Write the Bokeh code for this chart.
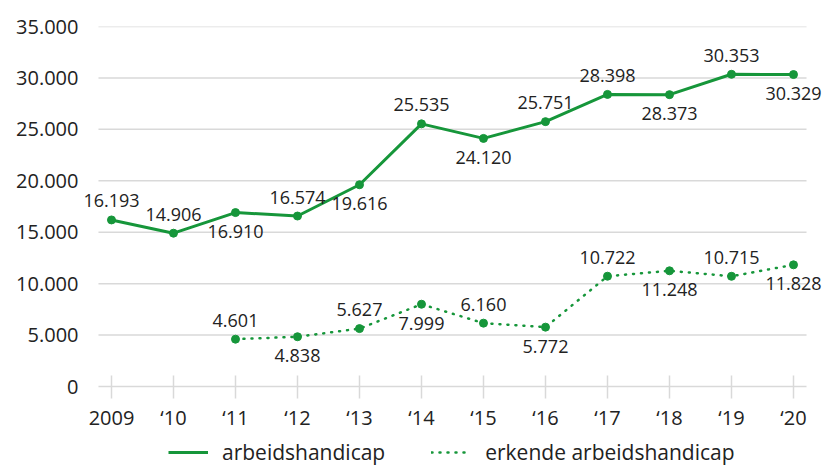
from bokeh.plotting import figure
from bokeh.models import (ColumnDataSource, FixedTicker, Legend, LegendItem,
                          CustomJSTickFormatter, Range1d, LabelSet, LinearAxis)
from bokeh.core.properties import value
from bokeh.embed import file_html
from bokeh.resources import INLINE

# ---- data ----
year_labels = ["2009", "\u201810", "\u201811", "\u201812", "\u201813", "\u201814",
               "\u201815", "\u201816", "\u201817", "\u201818", "\u201819", "\u201820"]
arbeidshandicap = [16193, 14906, 16910, 16574, 19616, 25535, 24120, 25751,
                   28398, 28373, 30353, 30329]
erkend_start = 2  # first year ('11) with data for the second series
erkende_arbeidshandicap = [4601, 4838, 5627, 7999, 6160, 5772, 10722, 11248,
                           10715, 11828]
label_side_1 = ["above", "above", "below", "above", "below", "above", "below",
                "above", "above", "below", "above", "below"]
label_side_2 = ["above", "below", "above", "below", "above", "below", "above",
                "below", "above", "below"]
y_ticks = [0, 5000, 10000, 15000, 20000, 25000, 30000, 35000]

GREEN = "#16963a"
TEXT = "#222222"
GRID = "#d9d9d9"
FONT = "Open Sans"


def fmt(v):
    return f"{v:,}".replace(",", ".")


x1 = list(range(len(arbeidshandicap)))
x2 = list(range(erkend_start, erkend_start + len(erkende_arbeidshandicap)))

OFF = 19
src1 = ColumnDataSource(dict(
    x=x1, y=arbeidshandicap,
    txt=[fmt(v) for v in arbeidshandicap],
    off=[OFF if s == "above" else -OFF for s in label_side_1]))
src2 = ColumnDataSource(dict(
    x=x2, y=erkende_arbeidshandicap,
    txt=[fmt(v) for v in erkende_arbeidshandicap],
    off=[OFF if s == "above" else -OFF for s in label_side_2]))

GX0, GX1 = -0.21, len(year_labels) - 1 + 0.21   # grid extent (data units)
Y_TOP = y_ticks[-1]
Y_BOTTOM = -Y_TOP * 80 / 360   # room below the zero line for axis labels and legend

p = figure(width=823, height=466, output_backend="svg",
           toolbar_location=None, x_axis_location=None,
           x_range=Range1d(-0.5, 11.484), y_range=Range1d(Y_BOTTOM, Y_TOP),
           min_border_left=80, min_border_right=0, min_border_top=26,
           min_border_bottom=0)
p.outline_line_color = None
p.background_fill_color = "white"

# horizontal grid lines (limited extent)
p.segment(x0=[GX0] * len(y_ticks), x1=[GX1] * len(y_ticks), y0=y_ticks,
          y1=y_ticks, line_color=GRID, line_width=1.5)

r1 = p.line("x", "y", source=src1, line_color=GREEN, line_width=3)
p.scatter("x", "y", source=src1, size=8, color=GREEN)
r2 = p.line("x", "y", source=src2, line_color=GREEN, line_width=2.5,
            line_dash="1 7", line_cap="round")
p.scatter("x", "y", source=src2, size=8, color=GREEN)

for s in (src1, src2):
    p.add_layout(LabelSet(x="x", y="y", text="txt", y_offset="off", source=s,
                          text_align="center", text_baseline="middle",
                          text_font=value(FONT), text_font_size="18px",
                          text_color=TEXT))

# x axis fixed at y = 0
xaxis = LinearAxis(fixed_location=0)
xaxis.ticker = FixedTicker(ticks=x1)
xaxis.major_label_overrides = {i: lab for i, lab in enumerate(year_labels)}
xaxis.axis_line_color = None
xaxis.major_tick_line_color = GRID
xaxis.major_tick_line_width = 1.5
xaxis.major_tick_in = 11
xaxis.major_tick_out = 12
xaxis.minor_tick_line_color = None
xaxis.major_label_standoff = 5
xaxis.major_label_text_font = FONT
xaxis.major_label_text_font_size = "20px"
xaxis.major_label_text_color = TEXT
p.add_layout(xaxis, "below")

p.yaxis.ticker = FixedTicker(ticks=y_ticks)
p.yaxis.formatter = CustomJSTickFormatter(
    code="return tick.toFixed(0).replace(/\\B(?=(\\d{3})+(?!\\d))/g, '.');")
p.yaxis.axis_line_color = None
p.yaxis.major_tick_line_color = None
p.yaxis.minor_tick_line_color = None
p.yaxis.major_label_standoff = -4
p.yaxis.major_label_text_font = FONT
p.yaxis.major_label_text_font_size = "20px"
p.yaxis.major_label_text_color = TEXT

p.xgrid.grid_line_color = None
p.ygrid.grid_line_color = None

legend = Legend(items=[LegendItem(label="arbeidshandicap", renderers=[r1]),
                       LegendItem(label="erkende arbeidshandicap", renderers=[r2])],
                orientation="horizontal", location=(88, 0),
                border_line_color=None, background_fill_alpha=0,
                label_text_font=FONT, label_text_font_size="21px",
                label_text_color=TEXT, glyph_width=40, glyph_height=20,
                label_standoff=14, spacing=46, margin=0, padding=0)
p.add_layout(legend)

open("out.html", "w").write(file_html(p, INLINE))
